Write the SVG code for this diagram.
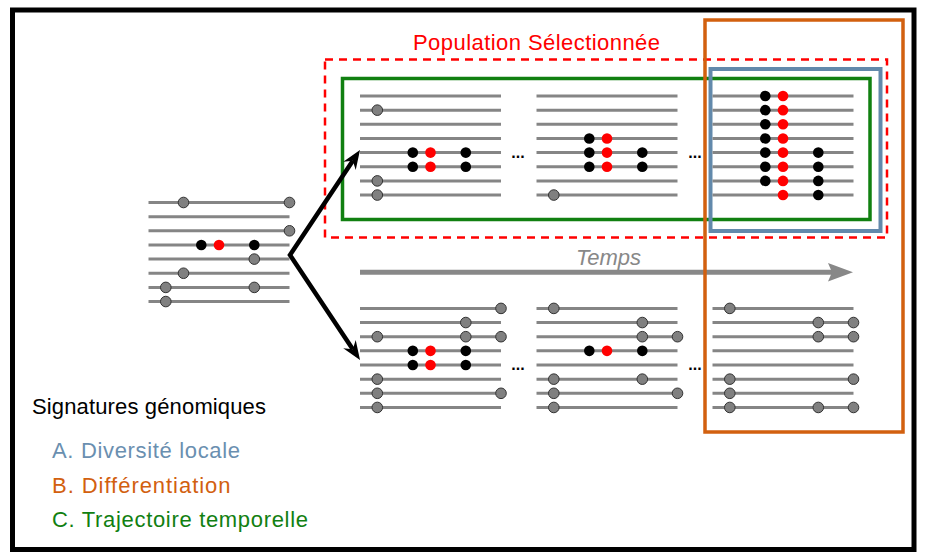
<svg xmlns="http://www.w3.org/2000/svg" xmlns:xlink="http://www.w3.org/1999/xlink" width="932" height="560" viewBox="0 0 932 560">
<style>
.ln{stroke:#858585;stroke-width:3;fill:none}
.g{fill:#808080;stroke:#333;stroke-width:1}
.k{fill:#000}
.r{fill:#ff0000}
.t{font-family:"Liberation Sans",Arial,sans-serif;font-size:22px}
.dots{font-family:"Liberation Sans",Arial,sans-serif;font-size:16px;font-weight:bold;fill:#000}
</style>
<defs>
<g id="lines8">
<path class="ln" d="M0,0h141M0,14.15h141M0,28.3h141M0,42.45h141M0,56.6h141M0,70.75h141M0,84.9h141M0,99.05h141"/>
</g>
<marker id="ah" markerUnits="userSpaceOnUse" markerWidth="24" markerHeight="24" refX="6" refY="0" orient="auto-start-reverse" overflow="visible">
<path d="M19,0 L0,-7.5 L6,0 L0,7.5 Z" fill="#000"/>
</marker>
</defs>
<rect x="0" y="0" width="932" height="560" fill="#fff"/>
<rect x="12.5" y="10" width="901.5" height="539.5" fill="none" stroke="#000" stroke-width="5"/>

<g id="frames">
<rect id="selected" x="325" y="59.5" width="562" height="178" fill="none" stroke="#ff0000" stroke-width="2.5" stroke-dasharray="8,6"/>
<rect id="trajectory" x="342.5" y="78.5" width="527.5" height="141" fill="none" stroke="#118011" stroke-width="3.5"/>
<rect id="diversity" x="710.5" y="69" width="170" height="162" fill="none" stroke="#6289ab" stroke-width="4"/>
</g>

<g id="pop-initial" transform="translate(148.5,202.5)">
<use xlink:href="#lines8"/>
<circle class="g" cx="35" cy="0" r="5.3"/><circle class="g" cx="141" cy="0" r="5.3"/>
<circle class="g" cx="141" cy="28.3" r="5.3"/>
<circle class="k" cx="52.8" cy="42.45" r="5.3"/><circle class="r" cx="70.5" cy="42.45" r="5.3"/><circle class="k" cx="105.8" cy="42.45" r="5.3"/>
<circle class="g" cx="105.8" cy="56.6" r="5.3"/>
<circle class="g" cx="35" cy="70.75" r="5.3"/>
<circle class="g" cx="17.3" cy="84.9" r="5.3"/><circle class="g" cx="105.8" cy="84.9" r="5.3"/>
<circle class="g" cx="17.3" cy="99.05" r="5.3"/>
</g>

<g id="sel-t1" transform="translate(360,96)">
<use xlink:href="#lines8"/>
<circle class="g" cx="17.3" cy="14.15" r="5.3"/>
<circle class="k" cx="52.8" cy="56.6" r="5.3"/><circle class="r" cx="70.5" cy="56.6" r="5.3"/><circle class="k" cx="105.8" cy="56.6" r="5.3"/>
<circle class="k" cx="52.8" cy="70.75" r="5.3"/><circle class="r" cx="70.5" cy="70.75" r="5.3"/><circle class="k" cx="105.8" cy="70.75" r="5.3"/>
<circle class="g" cx="17.3" cy="84.9" r="5.3"/>
<circle class="g" cx="17.3" cy="99.05" r="5.3"/>
</g>

<g id="sel-t2" transform="translate(536.5,96)">
<use xlink:href="#lines8"/>
<circle class="k" cx="52.8" cy="42.45" r="5.3"/><circle class="r" cx="70.5" cy="42.45" r="5.3"/>
<circle class="k" cx="52.8" cy="56.6" r="5.3"/><circle class="r" cx="70.5" cy="56.6" r="5.3"/><circle class="k" cx="105.8" cy="56.6" r="5.3"/>
<circle class="k" cx="52.8" cy="70.75" r="5.3"/><circle class="r" cx="70.5" cy="70.75" r="5.3"/><circle class="k" cx="105.8" cy="70.75" r="5.3"/>
<circle class="g" cx="17.3" cy="99.05" r="5.3"/>
</g>

<g id="sel-t3" transform="translate(712.5,96)">
<use xlink:href="#lines8"/>
<circle class="k" cx="52.8" cy="0" r="5.3"/><circle class="r" cx="70.5" cy="0" r="5.3"/>
<circle class="k" cx="52.8" cy="14.15" r="5.3"/><circle class="r" cx="70.5" cy="14.15" r="5.3"/>
<circle class="k" cx="52.8" cy="28.3" r="5.3"/><circle class="r" cx="70.5" cy="28.3" r="5.3"/>
<circle class="k" cx="52.8" cy="42.45" r="5.3"/><circle class="r" cx="70.5" cy="42.45" r="5.3"/>
<circle class="k" cx="52.8" cy="56.6" r="5.3"/><circle class="r" cx="70.5" cy="56.6" r="5.3"/><circle class="k" cx="105.8" cy="56.6" r="5.3"/>
<circle class="k" cx="52.8" cy="70.75" r="5.3"/><circle class="r" cx="70.5" cy="70.75" r="5.3"/><circle class="k" cx="105.8" cy="70.75" r="5.3"/>
<circle class="k" cx="52.8" cy="84.9" r="5.3"/><circle class="r" cx="70.5" cy="84.9" r="5.3"/><circle class="k" cx="105.8" cy="84.9" r="5.3"/>
<circle class="r" cx="70.5" cy="99.05" r="5.3"/><circle class="k" cx="105.8" cy="99.05" r="5.3"/>
</g>

<g id="neu-t1" transform="translate(360,308.4)">
<use xlink:href="#lines8"/>
<circle class="g" cx="141" cy="0" r="5.3"/>
<circle class="g" cx="105.8" cy="14.15" r="5.3"/>
<circle class="g" cx="17.3" cy="28.3" r="5.3"/><circle class="g" cx="105.8" cy="28.3" r="5.3"/><circle class="g" cx="141" cy="28.3" r="5.3"/>
<circle class="k" cx="52.8" cy="42.45" r="5.3"/><circle class="r" cx="70.5" cy="42.45" r="5.3"/><circle class="k" cx="105.8" cy="42.45" r="5.3"/>
<circle class="k" cx="52.8" cy="56.6" r="5.3"/><circle class="r" cx="70.5" cy="56.6" r="5.3"/><circle class="k" cx="105.8" cy="56.6" r="5.3"/>
<circle class="g" cx="17.3" cy="70.75" r="5.3"/>
<circle class="g" cx="17.3" cy="84.9" r="5.3"/><circle class="g" cx="141" cy="84.9" r="5.3"/>
<circle class="g" cx="17.3" cy="99.05" r="5.3"/>
</g>

<g id="neu-t2" transform="translate(536.5,308.4)">
<use xlink:href="#lines8"/>
<circle class="g" cx="17.3" cy="0" r="5.3"/>
<circle class="g" cx="105.8" cy="14.15" r="5.3"/>
<circle class="g" cx="105.8" cy="28.3" r="5.3"/><circle class="g" cx="141" cy="28.3" r="5.3"/>
<circle class="k" cx="52.8" cy="42.45" r="5.3"/><circle class="r" cx="70.5" cy="42.45" r="5.3"/><circle class="k" cx="105.8" cy="42.45" r="5.3"/>
<circle class="g" cx="17.3" cy="70.75" r="5.3"/><circle class="g" cx="105.8" cy="70.75" r="5.3"/>
<circle class="g" cx="17.3" cy="84.9" r="5.3"/><circle class="g" cx="141" cy="84.9" r="5.3"/>
<circle class="g" cx="17.3" cy="99.05" r="5.3"/>
</g>

<g id="neu-t3" transform="translate(712.5,308.4)">
<use xlink:href="#lines8"/>
<circle class="g" cx="17.3" cy="0" r="5.3"/>
<circle class="g" cx="105.8" cy="14.15" r="5.3"/><circle class="g" cx="141" cy="14.15" r="5.3"/>
<circle class="g" cx="105.8" cy="28.3" r="5.3"/><circle class="g" cx="141" cy="28.3" r="5.3"/>
<circle class="g" cx="17.3" cy="70.75" r="5.3"/><circle class="g" cx="141" cy="70.75" r="5.3"/>
<circle class="g" cx="17.3" cy="84.9" r="5.3"/>
<circle class="g" cx="17.3" cy="99.05" r="5.3"/><circle class="g" cx="105.8" cy="99.05" r="5.3"/><circle class="g" cx="141" cy="99.05" r="5.3"/>
</g>

<g id="ellipses">
<text class="dots" x="518" y="158" text-anchor="middle">...</text>
<text class="dots" x="695" y="158" text-anchor="middle">...</text>
<text class="dots" x="518" y="370" text-anchor="middle">...</text>
<text class="dots" x="695" y="370" text-anchor="middle">...</text>
</g>

<g id="time-axis">
<line x1="360" y1="272.3" x2="832" y2="272.3" stroke="#888" stroke-width="5"/>
<path d="M853,272.3 L828,263 L832,272.3 L828,281.6 Z" fill="#888"/>
<text class="t" x="608.5" y="265" text-anchor="middle" font-style="italic" font-size="21" fill="#888">Temps</text>
</g>

<g id="connectors">
<polyline points="352.8,160.8 290,255 352.8,349.2" fill="none" stroke="#000" stroke-width="4.5" stroke-linejoin="miter" marker-start="url(#ah)" marker-end="url(#ah)"/>
</g>

<rect id="differentiation" x="705" y="20" width="198" height="412" fill="none" stroke="#d2600f" stroke-width="3.5"/>

<text class="t" x="413" y="49.5" fill="#ff0000" textLength="247">Population Sélectionnée</text>

<g id="legend">
<text class="t" x="32" y="413.5" fill="#000" textLength="234">Signatures génomiques</text>
<text class="t" x="52" y="458.3" fill="#6a8fb0" textLength="188">A. Diversité locale</text>
<text class="t" x="52" y="492.5" fill="#d2600f" textLength="178.5">B. Différentiation</text>
<text class="t" x="52" y="526.7" fill="#118011" textLength="256">C. Trajectoire temporelle</text>
</g>
</svg>
